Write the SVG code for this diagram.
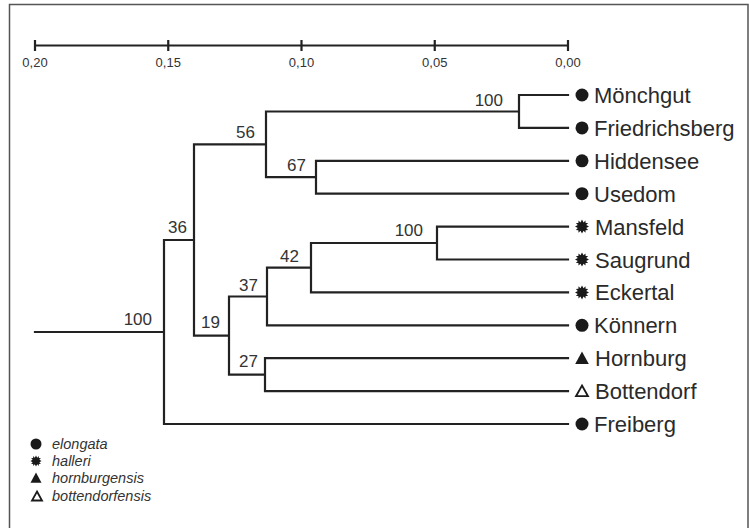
<svg xmlns="http://www.w3.org/2000/svg" width="749" height="528" viewBox="0 0 749 528">
<style>
.ln{fill:none;stroke:#222;stroke-width:2.2;stroke-linecap:square}
.ax{fill:none;stroke:#222;stroke-width:2.2}
.lbl{font-family:"Liberation Sans",Arial,sans-serif;font-size:22px;fill:#2a2a2a}
.bs{font-family:"Liberation Sans",Arial,sans-serif;font-size:17px;fill:#333;text-anchor:end}
.tk{font-family:"Liberation Sans",Arial,sans-serif;font-size:13px;fill:#333;text-anchor:middle}
.lg{font-family:"Liberation Sans",Arial,sans-serif;font-size:14.5px;font-style:italic;fill:#333}
.fill{fill:#1a1a1a}
.open{fill:#fff;stroke:#1a1a1a;stroke-width:1.8;stroke-linejoin:miter}
</style>
<defs>
<polygon id="star" class="fill" points="0,-7 1.5,-4.2 3.5,-6.1 3.6,-3.6 6.1,-3.5 4.2,-1.5 7,0 4.2,1.5 6.1,3.5 3.6,3.6 3.5,6.1 1.5,4.2 0,7 -1.5,4.2 -3.5,6.1 -3.6,3.6 -6.1,3.5 -4.2,1.5 -7,0 -4.2,-1.5 -6.1,-3.5 -3.6,-3.6 -3.5,-6.1 -1.5,-4.2"/>
</defs>
<rect x="0" y="0" width="749" height="528" fill="#fff"/>
<rect x="9.5" y="4.5" width="738.5" height="600" fill="none" stroke="#555" stroke-width="1.5"/>

<g id="scale">
<path class="ax" d="M35,45.5 H568 M35,40 V51 M168.25,40 V51 M301.5,40 V51 M434.75,40 V51 M568,40 V51"/>
<text class="tk" x="35" y="67">0,20</text>
<text class="tk" x="168.25" y="67">0,15</text>
<text class="tk" x="301.5" y="67">0,10</text>
<text class="tk" x="434.75" y="67">0,05</text>
<text class="tk" x="568" y="67">0,00</text>
</g>

<g id="connectors">
<path class="ln" d="M35,332 H164 M164,240 V424 M164,240 H194 M194,144.4 V335.6 M194,144.4 H266 M266,111.5 V177.2 M266,111.5 H519 M519,95 V127.9 M519,95 H568 M519,127.9 H568 M266,177.2 H316 M316,160.8 V193.7 M316,160.8 H568 M316,193.7 H568 M194,335.6 H229 M229,296.5 V374.7 M229,296.5 H267 M267,267.7 V325.3 M267,267.7 H311 M311,243 V292.4 M311,243 H437 M437,226.6 V259.5 M437,226.6 H568 M437,259.5 H568 M311,292.4 H568 M267,325.3 H568 M229,374.7 H265 M265,358.2 V391.1 M265,358.2 H568 M265,391.1 H568 M164,424 H568"/>
</g>

<g id="support">
<text class="bs" x="503" y="106">100</text>
<text class="bs" x="255" y="138">56</text>
<text class="bs" x="306" y="171">67</text>
<text class="bs" x="187" y="233">36</text>
<text class="bs" x="423" y="236">100</text>
<text class="bs" x="299" y="262">42</text>
<text class="bs" x="258" y="291">37</text>
<text class="bs" x="220" y="328">19</text>
<text class="bs" x="152" y="325">100</text>
<text class="bs" x="258" y="367">27</text>
</g>

<g id="leaf-moenchgut"><circle class="fill" cx="582" cy="95" r="6.5"/><text class="lbl" x="594" y="103">Mönchgut</text></g>
<g id="leaf-friedrichsberg"><circle class="fill" cx="582" cy="127.9" r="6.5"/><text class="lbl" x="594" y="135.9">Friedrichsberg</text></g>
<g id="leaf-hiddensee"><circle class="fill" cx="582" cy="160.8" r="6.5"/><text class="lbl" x="594" y="168.8">Hiddensee</text></g>
<g id="leaf-usedom"><circle class="fill" cx="582" cy="193.7" r="6.5"/><text class="lbl" x="594" y="201.7">Usedom</text></g>
<g id="leaf-mansfeld"><use href="#star" x="582" y="226.6"/><text class="lbl" x="595" y="234.6">Mansfeld</text></g>
<g id="leaf-saugrund"><use href="#star" x="582" y="259.5"/><text class="lbl" x="595" y="267.5">Saugrund</text></g>
<g id="leaf-eckertal"><use href="#star" x="582" y="292.4"/><text class="lbl" x="595" y="300.4">Eckertal</text></g>
<g id="leaf-koennern"><circle class="fill" cx="582" cy="325.3" r="6.5"/><text class="lbl" x="594" y="333.3">Könnern</text></g>
<g id="leaf-hornburg"><polygon class="fill" points="582,351.5 588.8,364 575.2,364"/><text class="lbl" x="595" y="366.2">Hornburg</text></g>
<g id="leaf-bottendorf"><polygon class="open" points="582,385.5 588,396.2 576,396.2"/><text class="lbl" x="595" y="399.1">Bottendorf</text></g>
<g id="leaf-freiberg"><circle class="fill" cx="582" cy="424" r="6.5"/><text class="lbl" x="594" y="432">Freiberg</text></g>

<g id="legend">
<circle class="fill" cx="36" cy="444" r="5.5"/>
<text class="lg" x="52" y="449">elongata</text>
<use href="#star" transform="translate(36,461) scale(0.8)"/>
<text class="lg" x="52" y="466">halleri</text>
<polygon class="fill" points="36,472.5 41.5,482.8 30.5,482.8"/>
<text class="lg" x="52" y="483">hornburgensis</text>
<polygon class="open" points="37,491.5 42,500.5 32,500.5"/>
<text class="lg" x="52" y="501">bottendorfensis</text>
</g>
</svg>
